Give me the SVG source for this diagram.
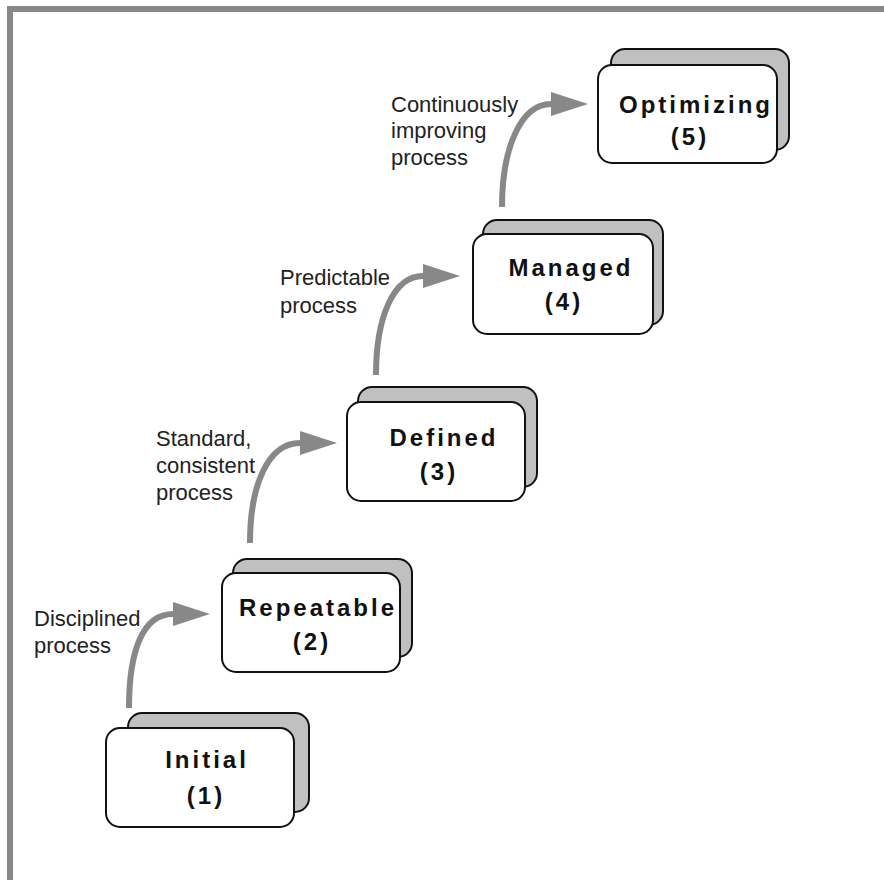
<svg xmlns="http://www.w3.org/2000/svg" width="884" height="880" viewBox="0 0 884 880">
<defs>
<style>
.back{fill:#c0c0c0;stroke:#111;stroke-width:2}
.front{fill:#fff;stroke:#111;stroke-width:2}
.t{font-family:"Liberation Sans",Arial,sans-serif;font-weight:bold;font-size:24px;letter-spacing:3px;fill:#111;text-anchor:middle}
.l{font-family:"Liberation Sans",Arial,sans-serif;font-size:22px;fill:#222}
.c{fill:none;stroke:#888;stroke-width:6}
</style>
<marker id="ah" markerUnits="userSpaceOnUse" markerWidth="40" markerHeight="26" refX="0" refY="12" orient="auto" viewBox="0 0 40 24">
<path d="M0,0 L37,12 L0,24 Z" fill="#888"/>
</marker>
</defs>
<rect width="884" height="880" fill="#fff"/>
<path d="M10,880 L10,9 L884,9" fill="none" stroke="#888" stroke-width="6"/>
<g id="connectors">
<path class="c" d="M129,708 C129,650 143,614 173,614" marker-end="url(#ah)"/>
<path class="c" d="M250,543 C250,485 268,443 300,443" marker-end="url(#ah)"/>
<path class="c" d="M376,375 C376,318 393,276 423,276" marker-end="url(#ah)"/>
<path class="c" d="M502,207 C502,150 520,104 551,104" marker-end="url(#ah)"/>
</g>
<g id="labels">
<text class="l" x="34" y="626">Disciplined</text>
<text class="l" x="34" y="653">process</text>
<text class="l" x="156" y="446">Standard,</text>
<text class="l" x="156" y="473">consistent</text>
<text class="l" x="156" y="500">process</text>
<text class="l" x="280" y="285">Predictable</text>
<text class="l" x="280" y="313">process</text>
<text class="l" x="391" y="112">Continuously</text>
<text class="l" x="391" y="138">improving</text>
<text class="l" x="391" y="165">process</text>
</g>
<g id="initial">
<rect class="back" x="128" y="713" width="181" height="99" rx="14"/>
<rect class="front" x="106" y="728" width="188" height="99" rx="14"/>
<text class="t" x="207" y="768">Initial</text>
<text class="t" x="206" y="804">(1)</text>
</g>
<g id="repeatable">
<rect class="back" x="233" y="559" width="179" height="98" rx="14"/>
<rect class="front" x="222" y="573" width="178" height="99" rx="14"/>
<text class="t" x="318" y="616">Repeatable</text>
<text class="t" x="312" y="650">(2)</text>
</g>
<g id="defined">
<rect class="back" x="358" y="387" width="179" height="100" rx="14"/>
<rect class="front" x="347" y="402" width="178" height="99" rx="14"/>
<text class="t" x="444" y="446">Defined</text>
<text class="t" x="439" y="480">(3)</text>
</g>
<g id="managed">
<rect class="back" x="483" y="220" width="180" height="105" rx="14"/>
<rect class="front" x="473" y="234" width="180" height="100" rx="14"/>
<text class="t" x="571" y="276">Managed</text>
<text class="t" x="564" y="310">(4)</text>
</g>
<g id="optimizing">
<rect class="back" x="611" y="49" width="178" height="101" rx="14"/>
<rect class="front" x="598" y="65" width="179" height="98" rx="14"/>
<text class="t" x="696" y="113">Optimizing</text>
<text class="t" x="690" y="145">(5)</text>
</g>
</svg>
